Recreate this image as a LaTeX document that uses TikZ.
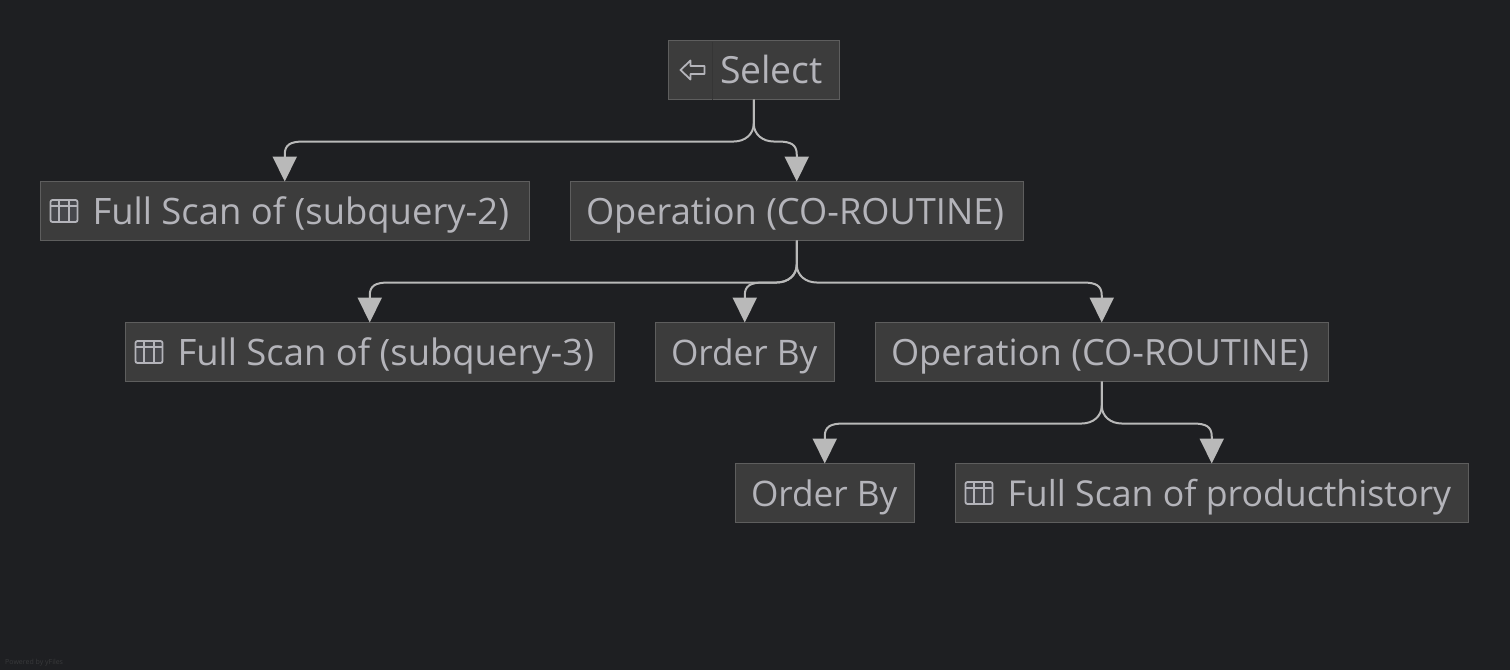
\documentclass[tikz,border=0pt]{standalone}
\usepackage{fontspec}
\setmainfont{Open Sans}
\usetikzlibrary{arrows.meta,calc}
\definecolor{canvasbg}{HTML}{1E1F22}
\definecolor{boxfill}{HTML}{3C3C3C}
\definecolor{boxline}{HTML}{5E5E5E}
\definecolor{boxsep}{HTML}{353535}
\definecolor{labelcol}{HTML}{B4B4BA}
\definecolor{edgecol}{HTML}{B9B9B9}
\definecolor{iconfill}{HTML}{46474C}
\definecolor{markcol}{HTML}{38393B}
\tikzset{
  planbox/.style={draw=boxline,fill=boxfill,line width=1pt,minimum height=59pt,inner sep=0pt,outer sep=0pt},
  planlabel/.style={anchor=base west,inner sep=0pt,outer sep=0pt,text=labelcol,font=\fontsize{#1}{#1}\selectfont},
  planlabel/.default=36.4,
  branch/.style={draw=edgecol,line width=2pt,-{Triangle[width=24pt,length=25pt]},
    to path={let \p1=(\tikztostart),\p2=(\tikztotarget),\n1={sign(\x2-\x1)} in
      (\p1) -- ({\x1},{\y1-24pt})
      .. controls ({\x1},{\y1-35pt}) and ({\x1+\n1*9pt},{\y1-42pt}) .. ({\x1+\n1*20pt},{\y1-42pt})
      -- ({\x2-\n1*19pt},{\y1-42pt})
      .. controls ({\x2-\n1*6pt},{\y1-42pt}) and ({\x2},{\y1-45pt}) .. ({\x2},{\y1-55pt})
      -- (\p2)}},
  tableicon/.pic={
    \draw[draw=labelcol,fill=iconfill,line width=1.8pt,rounded corners=2pt] (-13.5,-11) rectangle (13.5,11);
    \draw[labelcol,line width=1.8pt] (-13.5,-5) -- (13.5,-5) (-5,-11) -- (-5,11) (5,-11) -- (5,11);
  },
  backicon/.pic={
    \draw[labelcol,line width=1.8pt,line join=round] (-12,0) -- (-2,-9.5) -- (-2,-4) -- (12,-4) -- (12,4) -- (-2,4) -- (-2,9.5) -- cycle;
  }
}
\begin{document}
\begin{tikzpicture}[x=1pt,y=-1pt]
\fill[canvasbg] (0,0) rectangle (1510,670);
% boxes
\node[planbox,minimum width=171pt] (select) at (753.75,70) {};
\node[planbox,minimum width=489pt] (scanA) at (284.75,211) {};
\node[planbox,minimum width=453pt] (coroutineA) at (796.75,211) {};
\node[planbox,minimum width=489pt] (scanB) at (369.75,352) {};
\node[planbox,minimum width=179pt] (orderA) at (744.75,352) {};
\node[planbox,minimum width=453pt] (coroutineB) at (1101.75,352) {};
\node[planbox,minimum width=179pt] (orderB) at (824.75,493) {};
\node[planbox,minimum width=513pt] (scanC) at (1211.75,493) {};
\draw[boxsep,line width=1pt] (select.north west) ++(44,1) -- ++(0,58);
% labels
\node[planlabel=37.4] (selecttext) at (720,83) {Select};
\node[planlabel] (scanAtext) at (92.5,224) {Full Scan of (subquery-2)};
\node[planlabel=36.2] (coroutineAtext) at (586,224) {Operation (CO-ROUTINE)};
\node[planlabel] (scanBtext) at (177.5,365) {Full Scan of (subquery-3)};
\node[planlabel=35.2] (orderAtext) at (671,365) {Order By};
\node[planlabel=36.2] (coroutineBtext) at (891,365) {Operation (CO-ROUTINE)};
\node[planlabel=35.2] (orderBtext) at (751,506) {Order By};
\node[planlabel=35.7] (scanCtext) at (1007.5,506) {Full Scan of producthistory};
% icons
\pic at (692.5,70) {backicon};
\foreach \x/\y in {64/211,149/352,979/493}
  \pic at (\x,\y) {tableicon};
% edges
\foreach \from/\to in {select/scanA,select/coroutineA,coroutineA/scanB,coroutineA/orderA,coroutineA/coroutineB,coroutineB/orderB,coroutineB/scanC}
  \draw[branch] (\from.south) to (\to.north);
\node[anchor=base west,inner sep=0pt,text=markcol,font=\fontsize{7}{7}\selectfont] (powered) at (5,664) {Powered by yFiles};
\end{tikzpicture}
\end{document}
